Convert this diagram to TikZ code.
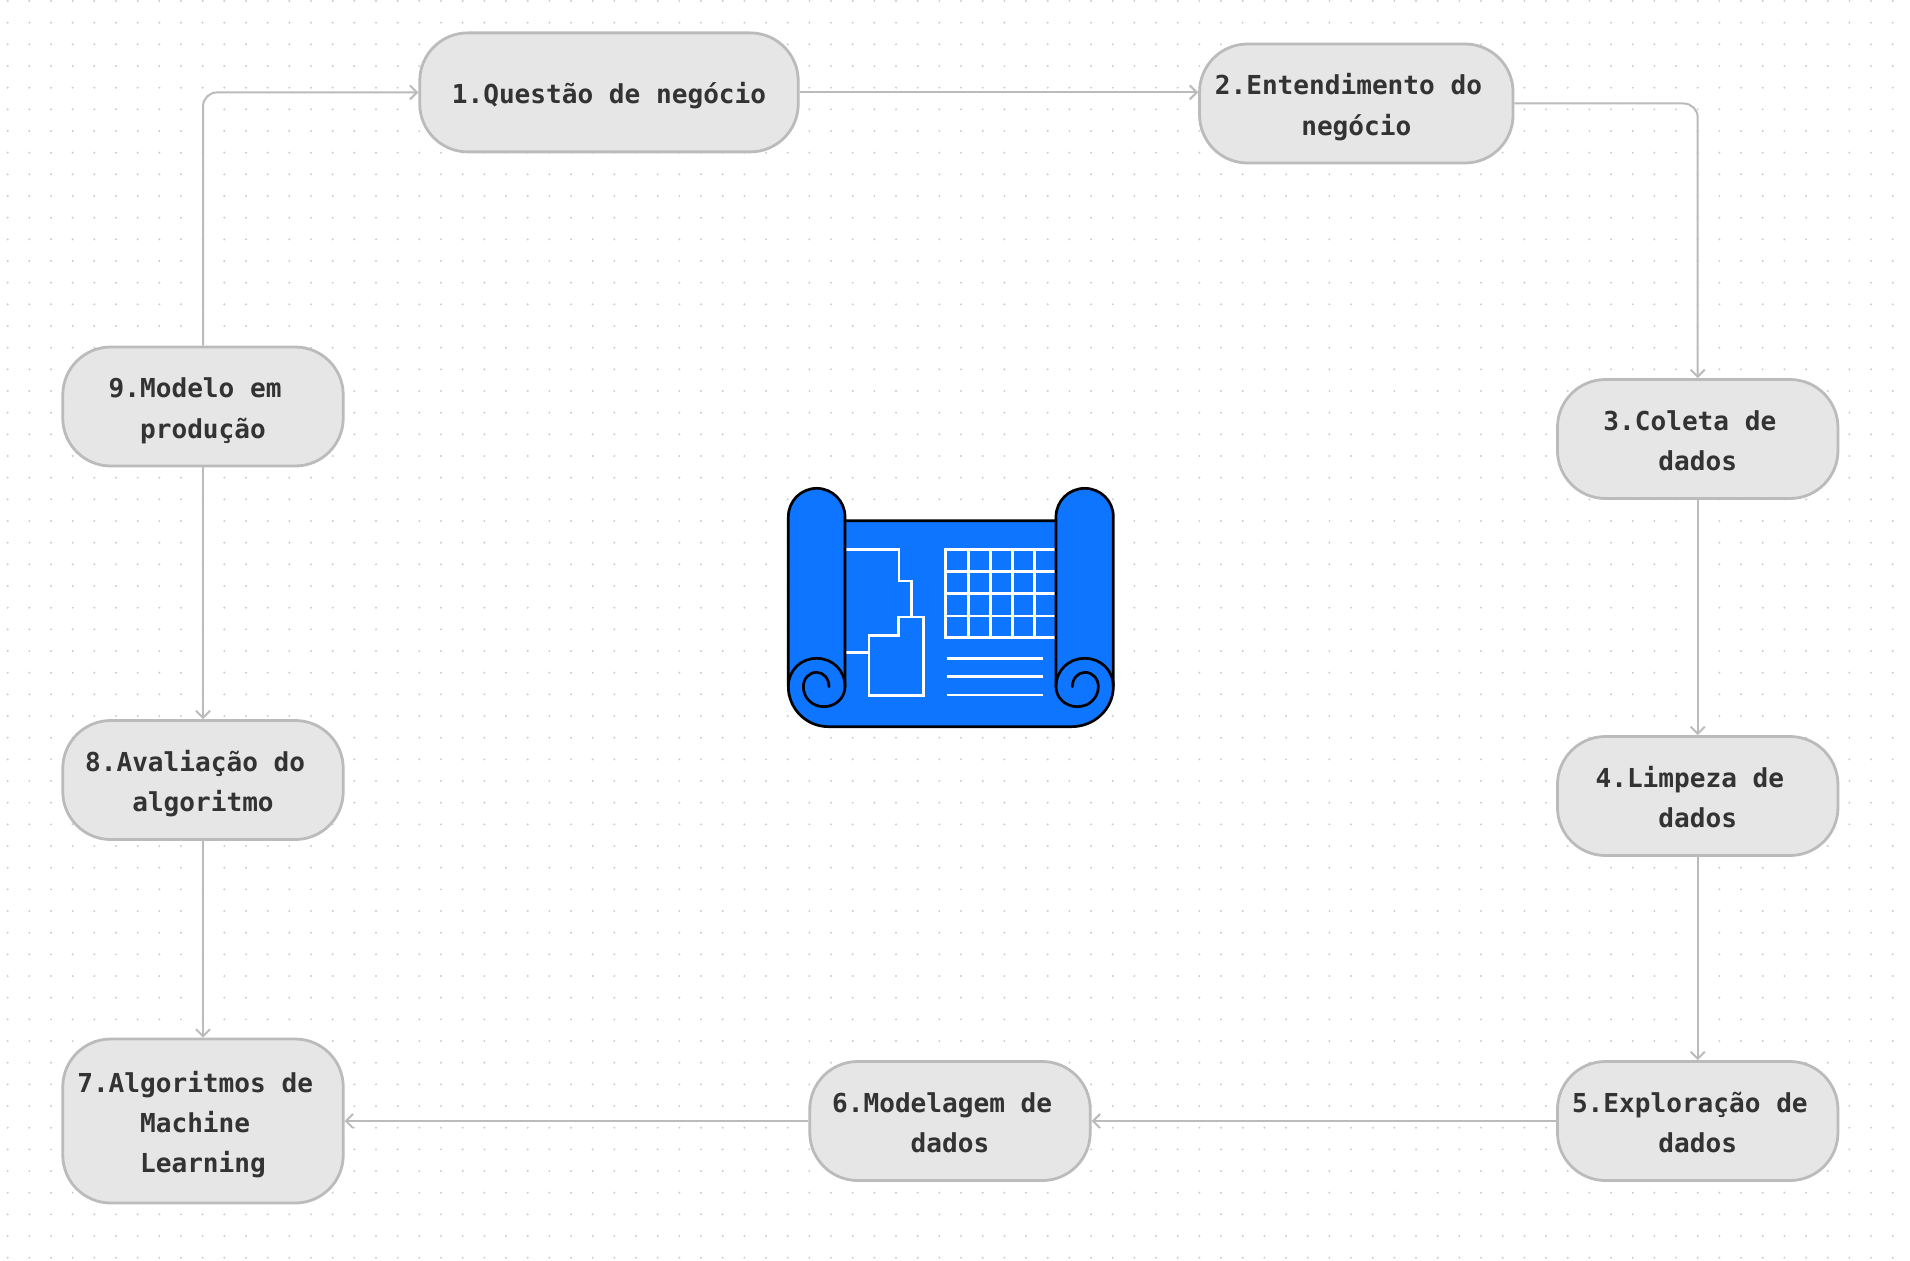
\documentclass[tikz,border=0pt]{standalone}
\usepackage{fontspec}
\usetikzlibrary{arrows.meta}
\newfontfamily\labelfont[BoldFont={DejaVu Sans Mono Bold}]{DejaVu Sans Mono}
\definecolor{greyline}{HTML}{BBBBBB}
\definecolor{boxfill}{HTML}{E6E6E6}
\definecolor{inktext}{HTML}{333333}
\definecolor{griddot}{HTML}{CCCCCC}
\definecolor{planblue}{HTML}{0D75FF}
\newcommand{\tsp}{\phantom{x}}
\newcommand{\tup}{\rule{0pt}{31pt}}
\newcommand{\tdn}{\rule[-8pt]{0pt}{8pt}}
\tikzset{
  flowbox/.style={draw=greyline,fill=boxfill,line width=2.8pt,rounded corners=48pt,
    inner sep=0pt,align=center,text=inktext,
    font=\labelfont\bfseries\fontsize{26.1}{40.2}\selectfont},
  link/.style={draw=greyline,line width=2pt,rounded corners=14pt,
    -{Straight Barb[length=7pt,width=14pt,line width=2pt]}},
  inkline/.style={draw=black,line width=2.7pt,line cap=round,line join=round},
  planline/.style={draw=white,line width=2.4pt,line join=miter},
}
\begin{document}
\begin{tikzpicture}[x=1pt,y=-1pt]
\useasboundingbox (0,0) rectangle (1910,1260);
\fill[white] (0,0) rectangle (1910,1260);
\foreach \i in {0,...,88}{
  \foreach \j in {0,...,58}{
    \fill[griddot] ({7.67+21.667*\i},{1+21.667*\j}) circle (1.1pt);
  }
}
% nodes
\node[flowbox,minimum width=378.5pt,minimum height=119pt] (n1) at (609,92.4) {\tup 1.Questão de negócio\tdn};
\node[flowbox,minimum width=313.5pt,minimum height=119pt] (n2) at (1356.3,103.5) {\tup 2.Entendimento do\tsp\\negócio\tdn};
\node[flowbox,minimum width=280.5pt,minimum height=119pt] (n3) at (1697.7,439) {\tup 3.Coleta de\tsp\\dados\tdn};
\node[flowbox,minimum width=280.5pt,minimum height=119pt] (n4) at (1697.7,796) {\tup 4.Limpeza de\tsp\\dados\tdn};
\node[flowbox,minimum width=280.5pt,minimum height=119pt] (n5) at (1697.7,1121) {\tup 5.Exploração de\tsp\\dados\tdn};
\node[flowbox,minimum width=280.5pt,minimum height=119pt] (n6) at (950,1121) {\tup 6.Modelagem de\tsp\\dados\tdn};
\node[flowbox,minimum width=280.5pt,minimum height=164pt] (n7) at (203,1121) {\tup 7.Algoritmos de\tsp\\Machine\tsp\\Learning\tdn};
\node[flowbox,minimum width=280.5pt,minimum height=119pt] (n8) at (203,780) {\tup 8.Avaliação do\tsp\\algoritmo\tdn};
\node[flowbox,minimum width=280.5pt,minimum height=119pt] (n9) at (203,406.5) {\tup 9.Modelo em\tsp\\produção\tdn};
% connectors
\draw[link] (n1.east) -- (n1.east -| n2.west);
\draw[link] (n2.east) -- (n2.east -| n3.north) -- (n3.north);
\draw[link] (n3.south) -- (n4.north);
\draw[link] (n4.south) -- (n5.north);
\draw[link] (n5.west) -- (n6.east);
\draw[link] (n6.west) -- (n7.east);
\draw[link] (n8.south) -- (n7.north);
\draw[link] (n9.south) -- (n8.north);
\draw[link] (n9.north) -- (n9.north |- n1.west) -- (n1.west);
% blueprint scroll
\begin{scope}[shift={(770,470)},x=0.33333pt,y=-0.33333pt]
  \path[fill=planblue,inkline]
    (55,650) .. controls (55,716) and (109,770) .. (175,770) -- (905,770)
    .. controls (974,770) and (1030,716) .. (1030,650) -- (1030,140)
    .. controls (1030,93) and (992,55) .. (944,55)
    .. controls (897,55) and (858,93) .. (858,140) -- (858,152) -- (225,152) -- (225,140)
    .. controls (225,93) and (187,55) .. (140,55)
    .. controls (93,55) and (55,93) .. (55,140) -- cycle;
  % plan
  \draw[planline] (228,238) -- (387,238) -- (387,333) -- (425,333) -- (425,440);
  \draw[planline] (385,497) -- (385,441) -- (461,441) -- (461,676) -- (297,676) -- (297,497) -- cycle;
  \draw[planline] (228,548) -- (297,548);
  % table
  \draw[planline] (858,238) -- (527,238) -- (527,503) -- (858,503);
  \foreach \gx in {595,661,727,794}{\draw[planline] (\gx,238) -- (\gx,503);}
  \foreach \gy in {304,371,438}{\draw[planline] (527,\gy) -- (858,\gy);}
  % text lines
  \foreach \ly in {565,620,675}{\draw[planline] (530,\ly) -- (818,\ly);}
  % rolls
  \draw[inkline] (225,152) -- (225,650)
    .. controls (225,684) and (196,710) .. (162,710)
    .. controls (127,710) and (100,684) .. (100,650)
    .. controls (100,626) and (117,607) .. (140,607)
    .. controls (161,607) and (177,626) .. (177,650);
  \draw[inkline] (55,650) .. controls (55,600) and (93,565) .. (140,565)
    .. controls (187,565) and (225,600) .. (225,650);
  \draw[inkline] (858,152) -- (858,650)
    .. controls (858,684) and (887,710) .. (922,710)
    .. controls (957,710) and (985,684) .. (985,650)
    .. controls (985,626) and (968,607) .. (945,607)
    .. controls (924,607) and (907,626) .. (907,650);
  \draw[inkline] (858,650) .. controls (858,600) and (897,565) .. (944,565)
    .. controls (992,565) and (1030,600) .. (1030,650);
\end{scope}
\end{tikzpicture}
\end{document}
